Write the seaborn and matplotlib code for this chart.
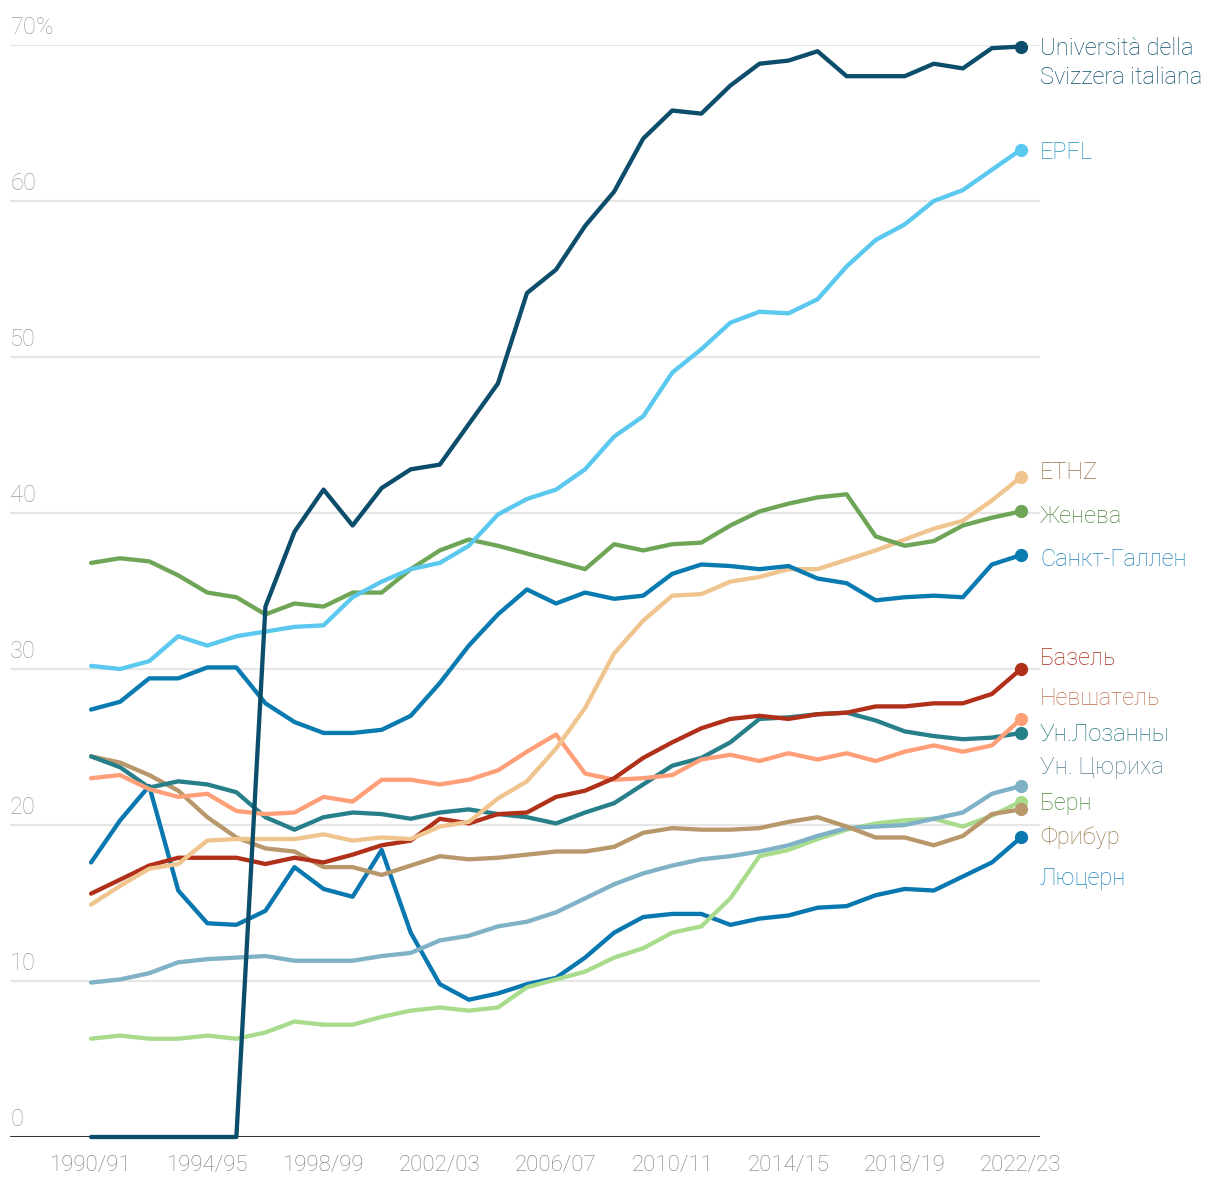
import pandas as pd
import numpy as np
import matplotlib.pyplot as plt
import matplotlib.transforms as mtransforms
import seaborn as sns

# ---- data (share of foreign students, %) ----
years = list(range(1990, 2023))
year_labels = [f"{y}/{str(y + 1)[-2:]}" for y in years]

usi = [0, 0, 0, 0, 0, 0, 34.0, 38.8, 41.5, 39.2, 41.6, 42.8, 43.1, 45.7, 48.3, 54.1, 55.6,
       58.4, 60.6, 64.0, 65.8, 65.6, 67.4, 68.8, 69.0, 69.6, 68.0, 68.0, 68.0, 68.8, 68.5, 69.8, 69.9]
epfl = [30.2, 30.0, 30.5, 32.1, 31.5, 32.1, 32.4, 32.7, 32.8, 34.6, 35.6, 36.4, 36.8, 37.9, 39.9, 40.9, 41.5,
        42.8, 44.9, 46.2, 49.0, 50.5, 52.2, 52.9, 52.8, 53.7, 55.8, 57.5, 58.5, 60.0, 60.7, 62.0, 63.3]
ethz = [14.9, 16.1, 17.2, 17.5, 19.0, 19.1, 19.1, 19.1, 19.4, 19.0, 19.2, 19.1, 19.9, 20.2, 21.7, 22.8, 24.9,
        27.5, 31.0, 33.1, 34.7, 34.8, 35.6, 35.9, 36.4, 36.4, 37.0, 37.6, 38.3, 39.0, 39.5, 40.8, 42.3]
geneva = [36.8, 37.1, 36.9, 36.0, 34.9, 34.6, 33.5, 34.2, 34.0, 34.9, 34.9, 36.4, 37.6, 38.3, 37.9, 37.4, 36.9,
          36.4, 38.0, 37.6, 38.0, 38.1, 39.2, 40.1, 40.6, 41.0, 41.2, 38.5, 37.9, 38.2, 39.2, 39.7, 40.1]
stgallen = [27.4, 27.9, 29.4, 29.4, 30.1, 30.1, 27.8, 26.6, 25.9, 25.9, 26.1, 27.0, 29.1, 31.5, 33.5, 35.1, 34.2,
            34.9, 34.5, 34.7, 36.1, 36.7, 36.6, 36.4, 36.6, 35.8, 35.5, 34.4, 34.6, 34.7, 34.6, 36.7, 37.3]
basel = [15.6, 16.5, 17.4, 17.9, 17.9, 17.9, 17.5, 17.9, 17.6, 18.1, 18.7, 19.0, 20.4, 20.1, 20.7, 20.8, 21.8,
         22.2, 23.0, 24.3, 25.3, 26.2, 26.8, 27.0, 26.8, 27.1, 27.2, 27.6, 27.6, 27.8, 27.8, 28.4, 30.0]
neuchatel = [23.0, 23.2, 22.3, 21.8, 22.0, 20.9, 20.7, 20.8, 21.8, 21.5, 22.9, 22.9, 22.6, 22.9, 23.5, 24.7, 25.8,
             23.3, 22.9, 23.0, 23.2, 24.2, 24.5, 24.1, 24.6, 24.2, 24.6, 24.1, 24.7, 25.1, 24.7, 25.1, 26.8]
lausanne = [24.4, 23.7, 22.4, 22.8, 22.6, 22.1, 20.5, 19.7, 20.5, 20.8, 20.7, 20.4, 20.8, 21.0, 20.7, 20.5, 20.1,
            20.8, 21.4, 22.6, 23.8, 24.3, 25.3, 26.8, 26.9, 27.1, 27.2, 26.7, 26.0, 25.7, 25.5, 25.6, 25.9]
zurich = [9.9, 10.1, 10.5, 11.2, 11.4, 11.5, 11.6, 11.3, 11.3, 11.3, 11.6, 11.8, 12.6, 12.9, 13.5, 13.8, 14.4,
          15.3, 16.2, 16.9, 17.4, 17.8, 18.0, 18.3, 18.7, 19.3, 19.8, 19.9, 20.0, 20.4, 20.8, 22.0, 22.5]
bern = [6.3, 6.5, 6.3, 6.3, 6.5, 6.3, 6.7, 7.4, 7.2, 7.2, 7.7, 8.1, 8.3, 8.1, 8.3, 9.6, 10.1,
        10.6, 11.5, 12.1, 13.1, 13.5, 15.3, 18.0, 18.4, 19.1, 19.7, 20.1, 20.3, 20.4, 19.9, 20.6, 21.5]
fribourg = [24.4, 24.0, 23.2, 22.2, 20.5, 19.2, 18.5, 18.3, 17.3, 17.3, 16.8, 17.4, 18.0, 17.8, 17.9, 18.1, 18.3,
            18.3, 18.6, 19.5, 19.8, 19.7, 19.7, 19.8, 20.2, 20.5, 19.9, 19.2, 19.2, 18.7, 19.3, 20.7, 21.0]
lucerne = [17.6, 20.3, 22.5, 15.8, 13.7, 13.6, 14.5, 17.3, 15.9, 15.4, 18.4, 13.1, 9.8, 8.8, 9.2, 9.8, 10.2,
           11.5, 13.1, 14.1, 14.3, 14.3, 13.6, 14.0, 14.2, 14.7, 14.8, 15.5, 15.9, 15.8, 16.7, 17.6, 19.2]

names = ["Люцерн", "Берн", "Ун. Цюриха", "Фрибур", "Ун.Лозанны", "Невшатель", "Базель",
         "ETHZ", "Санкт-Галлен", "Женева", "EPFL", "Università della\nSvizzera italiana"]
series = [lucerne, bern, zurich, fribourg, lausanne, neuchatel, basel,
          ethz, stgallen, geneva, epfl, usi]

# ---- styles ----
line_colors = ["#0a78b0", "#a8dc8c", "#7fb2c6", "#b8976a", "#277f8a", "#ff9f78", "#b0301a",
               "#f0c48e", "#0a7bb0", "#6ea556", "#5bc8ef", "#0b4d6b"]
label_colors = ["#1f86be", "#4f8a3c", "#557f92", "#9c7b50", "#257580", "#c0704f", "#a82c16",
                "#987244", "#1f82b8", "#51873d", "#1f94c2", "#0b4d6b"]
label_y = [16.6, 21.4, 23.7, 19.2, 25.8, 28.1, 30.7, 42.6, 37.0, 39.8, 63.1, 68.85]

rows = []
for name, vals in zip(names, series):
    for y, v in zip(years, vals):
        rows.append({"year": y, "share": v, "uni": name})
df = pd.DataFrame(rows)
palette = dict(zip(names, line_colors))

sns.set_theme(style="white")
plt.rcParams['font.family'] = ['Roboto', 'DejaVu Sans']

fig = plt.figure(figsize=(12.2, 11.9), dpi=100)
ax = fig.add_axes([10 / 1220, 1 - 1137 / 1190, 1030 / 1220, (1137 - 45) / 1190])

# grid lines
for v in range(10, 80, 10):
    ax.axhline(v, color="#e6e6e6", lw=1.6, zorder=0)

sns.lineplot(data=df, x="year", y="share", hue="uni", hue_order=names, palette=palette,
             linewidth=3.1, legend=False, ax=ax, clip_on=False, zorder=3)

ax.axhline(0, color="#333333", lw=2.2, zorder=2)

blend = mtransforms.blended_transform_factory(ax.transAxes, ax.transData)
last = df[df["year"] == years[-1]]
for name, col, lc, ly in zip(names, line_colors, label_colors, label_y):
    v = last.loc[last["uni"] == name, "share"].iloc[0]
    ax.plot(years[-1], v, "o", color=col, ms=8.5, clip_on=False, zorder=4)
    ax.text(1.0, ly, name, color=lc, fontsize=17, fontweight="light",
            transform=blend, ha="left", va="center", linespacing=1.35)

ax.set_xlim(1990 - 2.79, 2022 + 0.655)
ax.set_ylim(0, 70)

ax.set_xticks(years[::4])
ax.set_xticklabels(year_labels[::4], fontsize=16, color="#7a7a7a", fontweight="light")
ax.tick_params(axis="x", length=0, pad=13)
ax.set_yticks([])
for v in range(0, 80, 10):
    lab = f"{v}%" if v == 70 else str(v)
    ax.text(0.0, v + 0.4, lab, fontsize=17, color="#a0a0a0", fontweight="light",
            transform=blend, ha="left", va="bottom")

ax.set_xlabel("")
ax.set_ylabel("")
for s in ax.spines.values():
    s.set_visible(False)

fig.savefig("out.png", dpi=100)
